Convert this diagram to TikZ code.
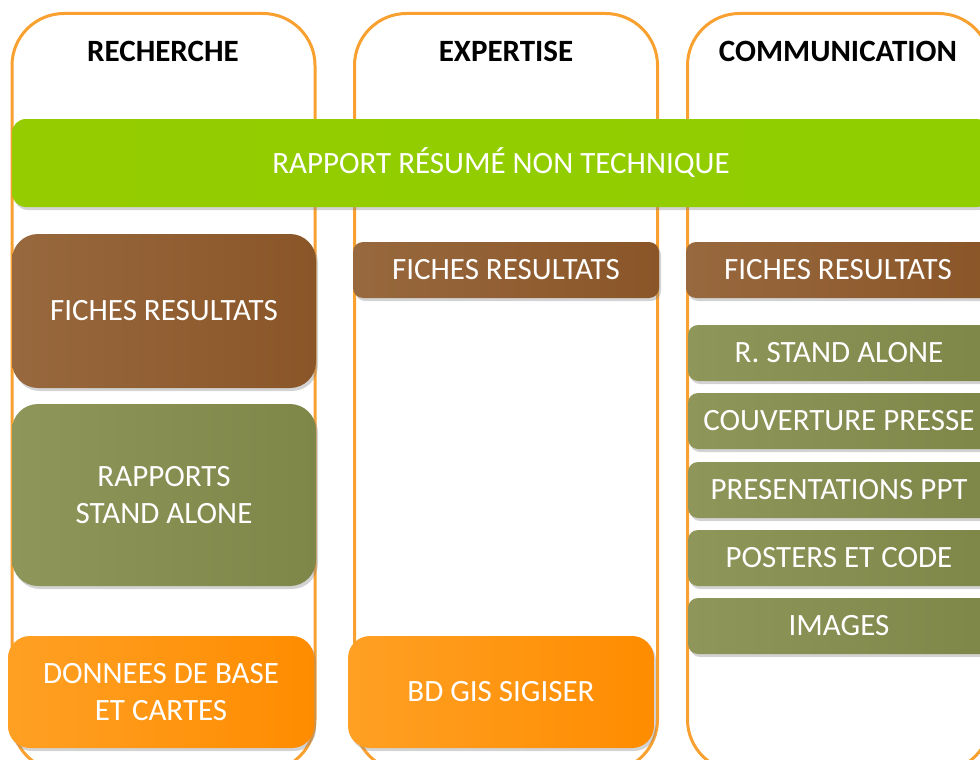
\documentclass[tikz,border=0pt]{standalone}
\usepackage{fontspec}
\setmainfont{Carlito}
\usetikzlibrary{shadows}

\definecolor{colframe}{HTML}{F8A030}
\definecolor{greenA}{HTML}{94CC00}
\definecolor{greenB}{HTML}{A2E200}
\definecolor{greenC}{HTML}{90CE00}
\definecolor{brownA}{HTML}{98683E}
\definecolor{brownB}{HTML}{A0622C}
\definecolor{brownC}{HTML}{8A5628}
\definecolor{oliveA}{HTML}{8E965A}
\definecolor{oliveB}{HTML}{8C9656}
\definecolor{oliveC}{HTML}{7E8648}
\definecolor{orangeA}{HTML}{FFA024}
\definecolor{orangeB}{HTML}{FFA00C}
\definecolor{orangeC}{HTML}{FF8C00}

\begin{document}
\begin{tikzpicture}[x=1pt, y=-1pt,
colframe/.style = {draw=colframe, line width=3pt, rounded corners=52pt,
    minimum width=303pt, minimum height=758pt, anchor=north},
headtxt/.style = {font=\fontsize{31}{34}\selectfont\bfseries, text=black},
box/.style = {rounded corners=#1, text=white, align=center,
    font=\fontsize{31}{37}\selectfont, inner sep=0pt,
    drop shadow={shadow xshift=2pt, shadow yshift=-3pt, opacity=0.35}},
box/.default = 14pt,
greenbar/.style = {box=14pt, left color=greenA, middle color=greenB, right color=greenC},
brownbox/.style = {box=#1, left color=brownA, middle color=brownB, right color=brownC},
brownbox/.default = 10pt,
olivebox/.style = {box=#1, left color=oliveA, middle color=oliveB, right color=oliveC},
olivebox/.default = 10pt,
orangebox/.style = {box=#1, left color=orangeA, middle color=orangeB, right color=orangeC},
orangebox/.default = 22pt]
\useasboundingbox (0,0) rectangle (980,760);
\clip (0,0) rectangle (980,760);

% the three columns
\node[colframe] (rech) at (163.5,12) {};
\node[colframe] (expe) at (506,12) {};
\node[colframe] (comm) at (839,12) {};
\node[headtxt] (rechT) at (163,51) {RECHERCHE};
\node[headtxt] (expeT) at (506,51) {EXPERTISE};
\node[headtxt] (commT) at (838,51) {COMMUNICATION};

\node[greenbar, minimum width=978pt, minimum height=88pt] (rapport) at (501,163)
   {RAPPORT RÉSUMÉ NON TECHNIQUE};

% recherche
\node[brownbox=26pt, minimum width=304pt, minimum height=154pt] (rFiches) at (164,311)
   {FICHES RESULTATS};
\node[olivebox=26pt, minimum width=304pt, minimum height=182pt] (rRapports) at (164,495)
   {RAPPORTS\\STAND ALONE};
\node[orangebox, minimum width=306pt, minimum height=112pt] (rDonnees) at (161,692)
   {DONNEES DE BASE\\ET CARTES};

% expertise
\node[brownbox, minimum width=306pt, minimum height=56pt] (eFiches) at (506,270)
   {FICHES RESULTATS};
\node[orangebox, minimum width=306pt, minimum height=112pt] (eBd) at (501,692)
   {BD GIS SIGISER};

% communication
\node[brownbox, minimum width=304pt, minimum height=56pt] (cFiches) at (838,270)
   {FICHES RESULTATS};
\foreach \name/\txt/\yy in {cStand/R. STAND ALONE/353, cPresse/COUVERTURE PRESSE/421,
    cPpt/PRESENTATIONS PPT/490, cPosters/POSTERS ET CODE/558, cImages/IMAGES/626}
  \node[olivebox, minimum width=302pt, minimum height=56pt] (\name) at (839,\yy) {\txt};
\end{tikzpicture}
\end{document}
